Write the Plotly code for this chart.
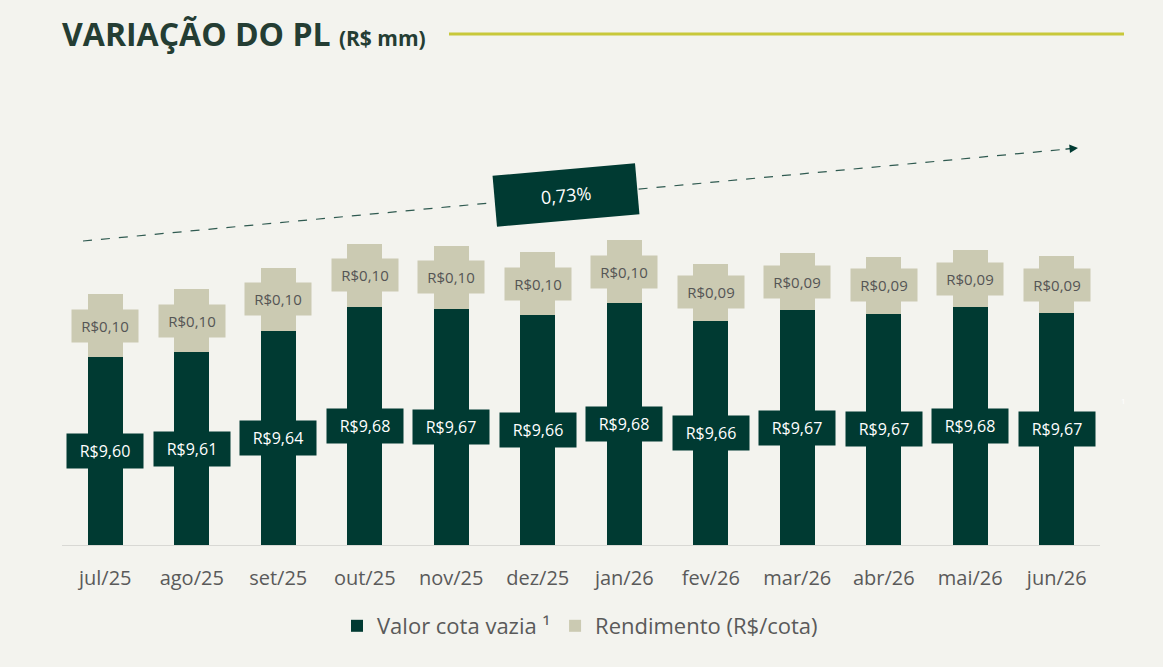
import plotly.graph_objects as go

meses = ["jul/25", "ago/25", "set/25", "out/25", "nov/25", "dez/25",
         "jan/26", "fev/26", "mar/26", "abr/26", "mai/26", "jun/26"]
valor_cota = [9.598, 9.606, 9.640, 9.678, 9.675, 9.665,
              9.684, 9.656, 9.673, 9.667, 9.678, 9.668]
rendimento = [0.10, 0.10, 0.10, 0.10, 0.10, 0.10,
              0.10, 0.09, 0.09, 0.09, 0.09, 0.09]
rotulo_cota = ["R$9,60", "R$9,61", "R$9,64", "R$9,68", "R$9,67", "R$9,66",
               "R$9,68", "R$9,66", "R$9,67", "R$9,67", "R$9,68", "R$9,67"]
rotulo_rend = ["R$0,10", "R$0,10", "R$0,10", "R$0,10", "R$0,10", "R$0,10",
               "R$0,10", "R$0,09", "R$0,09", "R$0,09", "R$0,09", "R$0,09"]
variacao = "0,73%"

Y_MIN = 9.30
Y_MAX = 9.30 + 465 / 630

DARK = "#003a32"
BEIGE = "#cbcab2"
BG = "#f3f3ee"
FONT = "Open Sans"

# plot area in pixels: x 62..1100, y 80..545
def px(x):
    return (x - 62) / 1038

def py(y):
    return (545 - y) / 465

fig = go.Figure()
fig.add_trace(go.Bar(x=meses, y=valor_cota, name="Valor cota vazia ¹",
                     marker=dict(color=DARK, line=dict(width=0)), width=0.40))
fig.add_trace(go.Bar(x=meses, y=rendimento, name="Rendimento (R$/cota)",
                     marker=dict(color=BEIGE, line=dict(width=0)), width=0.40))

annotations = []
for m, v, r, lc, lr in zip(meses, valor_cota, rendimento, rotulo_cota, rotulo_rend):
    annotations.append(dict(x=m, y=(Y_MIN + v) / 2, xref="x", yref="y", text=lc,
                            showarrow=False, bgcolor=DARK, width=74, height=32,
                            xanchor="center", yanchor="middle",
                            font=dict(family=FONT, size=16, color="#ffffff")))
    annotations.append(dict(x=m, y=v + r / 2, xref="x", yref="y", text=lr,
                            showarrow=False, bgcolor=BEIGE, width=64, height=30,
                            xanchor="center", yanchor="middle",
                            font=dict(family=FONT, size=15, color="#555555")))

# percentage box
annotations.append(dict(x=px(566), y=py(195), xref="paper", yref="paper", text=variacao,
                        xanchor="center", yanchor="middle",
                        showarrow=False, bgcolor=DARK, width=140, height=48, textangle=-5,
                        font=dict(family=FONT, size=18, color="#ffffff")))
# arrow head
annotations.append(dict(x=px(1078), y=py(148), xref="paper", yref="paper", text="",
                        showarrow=True, ax=-14, ay=1.3, axref="pixel", ayref="pixel",
                        arrowhead=2, arrowsize=1.3, arrowwidth=1.3, arrowcolor=DARK))
# title
annotations.append(dict(x=px(60), y=py(33), xref="paper", yref="paper",
                        xanchor="left", yanchor="middle", showarrow=False,
                        text="<b>VARIAÇÃO DO PL</b> <b><span style='font-size:21px'>(R$ mm)</span></b>",
                        font=dict(family=FONT, size=32, color="#243d33")))
annotations.append(dict(x=px(1123), y=py(400), xref="paper", yref="paper", text="1",
                        xanchor="center", yanchor="middle",
                        showarrow=False, font=dict(family=FONT, size=8, color="#ffffff")))

shapes = [
    dict(type="line", xref="paper", yref="paper", x0=px(449), x1=px(1124), y0=py(34), y1=py(34),
         line=dict(color="#c8c83a", width=3)),
    dict(type="line", xref="paper", yref="paper", x0=px(83), x1=px(1068), y0=py(241), y1=py(149),
         line=dict(color="#2f5a50", width=1.2, dash="dash")),
]

fig.update_layout(
    width=1163, height=667,
    barmode="stack",
    paper_bgcolor=BG, plot_bgcolor=BG,
    margin=dict(l=62, r=63, t=80, b=122),
    showlegend=True,
    legend=dict(orientation="h", x=px(580), xanchor="center", y=py(626), yanchor="middle",
                font=dict(family=FONT, size=22, color="#5a5a5a"), itemwidth=30,
                traceorder="normal", bgcolor="rgba(0,0,0,0)"),
    annotations=annotations,
    shapes=shapes,
    font=dict(family=FONT),
)
fig.update_xaxes(showgrid=False, showline=True, linecolor="#d8d8d4", linewidth=1,
                 ticks="", tickfont=dict(family=FONT, size=20, color="#5a5a5a"),
                 ticklabelstandoff=15)
fig.update_yaxes(range=[Y_MIN, Y_MAX], visible=False, showgrid=False)

fig.write_html("out.html")
